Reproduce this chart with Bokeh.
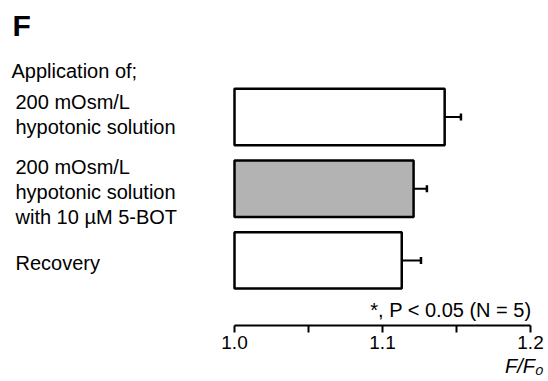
from bokeh.plotting import figure
from bokeh.models import Range1d, LinearAxis, FixedTicker, Label, ColumnDataSource, Title
from bokeh.embed import file_html
from bokeh.resources import INLINE

# ---- data ----
conditions = ["200 mOsm/L hypotonic solution",
              "200 mOsm/L hypotonic solution with 10 µM 5-BOT",
              "Recovery"]
ratio = [1.142, 1.121, 1.113]
sem = [0.011, 0.009, 0.013]
colors = ["white", "#b3b3b3", "white"]
tick_values = [1.0, 1.1, 1.2]
minor_values = [1.05, 1.15]

W, H = 548, 381
FRAME_B = 325            # pixel row of the axis line
X0_PX, XSCALE = 234.0, 1480.0   # pixel of 1.0, pixels per unit
Y3_PX, YSTEP = 116.5, 71.7

def px_x(px):
    return 1.0 + (px - X0_PX) / XSCALE

def px_y(py):
    return 3 - (py - Y3_PX) / YSTEP

p = figure(width=W, height=H, output_backend="svg", toolbar_location=None,
           x_axis_type=None, y_axis_type=None,
           x_range=Range1d(px_x(0), px_x(W)),
           y_range=Range1d(px_y(FRAME_B), px_y(0)),
           min_border_left=0, min_border_right=0, min_border_top=0,
           min_border_bottom=H - FRAME_B)
p.outline_line_color = None
p.grid.visible = False
p.background_fill_color = "white"
p.border_fill_color = "white"

n = len(ratio)
pos = [n - i for i in range(n)]
cap = 3.5 / YSTEP
src = ColumnDataSource(dict(y=pos, right=ratio, left=[1.0] * n, color=colors,
                            hi=[r + s for r, s in zip(ratio, sem)],
                            ylo=[y - cap for y in pos], yhi=[y + cap for y in pos]))
p.hbar(y="y", left="left", right="right", height=0.787, fill_color="color",
       line_color="black", line_width=2.5, source=src)
p.segment(x0="right", y0="y", x1="hi", y1="y", line_color="black", line_width=2, source=src)
p.segment(x0="hi", y0="ylo", x1="hi", y1="yhi",
          line_color="black", line_width=2.5, source=src)

ax = LinearAxis(ticker=FixedTicker(ticks=tick_values, minor_ticks=minor_values))
ax.bounds = (tick_values[0], tick_values[-1])
ax.axis_line_width = 2
ax.major_tick_line_width = 2
ax.minor_tick_line_width = 2
ax.major_tick_in = 0
ax.major_tick_out = 7
ax.minor_tick_in = 0
ax.minor_tick_out = 7
ax.major_label_text_font = "Liberation Sans"
ax.major_label_text_font_size = "19px"
ax.major_label_text_color = "black"
ax.major_label_standoff = 3
ax.major_label_overrides = {1.0: "1.0", 1.1: "1.1", 1.2: "1.2"}
p.add_layout(ax, "below")

xlab = Title(text="F/F\u2080", align="right", offset=5, standoff=3,
             text_font="Liberation Sans", text_font_style="italic",
             text_font_size="20px", text_color="black")
p.add_layout(xlab, "below")

FONT = "Liberation Sans"

def txt(x, y, s, size="20px", style="normal", align="left"):
    p.add_layout(Label(x=px_x(x), y=px_y(y), text=s, text_font=FONT,
                       text_font_size=size, text_font_style=style,
                       text_align=align, text_baseline="alphabetic",
                       text_color="black"))

txt(12, 25, "F", size="30px", style="bold")
txt(11, 70, "Application of;")
txt(15, 101, "200 mOsm/L")
txt(15, 126, "hypotonic solution")
txt(15, 166.5, "200 mOsm/L")
txt(15, 191.5, "hypotonic solution")
txt(15, 216.5, "with 10 µM 5-BOT")
txt(15, 262, "Recovery")
txt(531, 309, "*, P < 0.05 (N = 5)", align="right")

open("out.html", "w").write(file_html(p, INLINE))
